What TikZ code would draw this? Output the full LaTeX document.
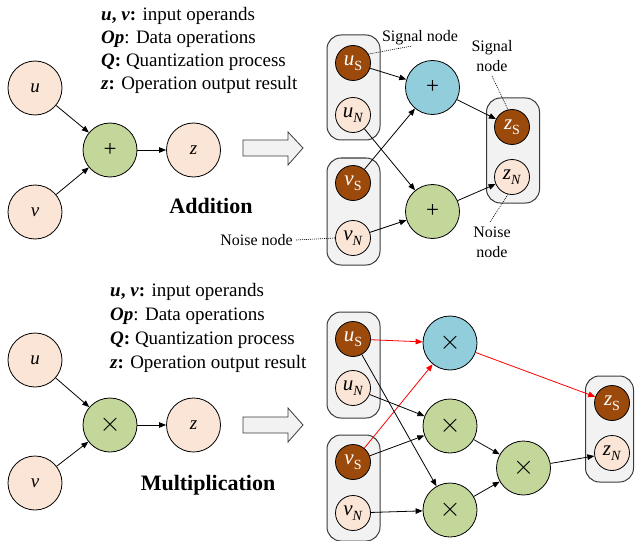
\RequirePackage{fix-cm}
\documentclass[tikz,border=0pt]{standalone}
\usepackage{fontspec}
\setmainfont{Liberation Serif}
\usetikzlibrary{arrows.meta}

\definecolor{peach}{HTML}{FBE5D6}
\definecolor{rust}{HTML}{9C4A0C}
\definecolor{opgreen}{HTML}{C4D79B}
\definecolor{opblue}{HTML}{92CDDC}
\definecolor{panel}{HTML}{F2F2F2}
\definecolor{panelline}{HTML}{3A3A3A}

% variable with a lowered index: \varsub{u}{S}
\newcommand{\varsub}[2]{\textit{#1}\raisebox{-0.25em}{\fontsize{14}{14}\selectfont #2}}

\tikzset{
  bignode/.style={circle, draw=black, line width=0.8pt, fill=peach, minimum size=54pt,
    inner sep=0pt, font=\fontsize{19}{20}\selectfont\itshape},
  opnode/.style={circle, draw=black, line width=0.8pt, minimum size=54pt, inner sep=0pt,
    font=\fontsize{23}{24}\selectfont},
  signode/.style={circle, draw=black, line width=0.8pt, fill=rust, text=white,
    minimum size=35pt, inner sep=0pt, font=\fontsize{21}{22}\selectfont},
  noisenode/.style={circle, draw=black, line width=0.8pt, fill=peach, text=black,
    minimum size=35pt, inner sep=0pt, font=\fontsize{21}{22}\selectfont},
  group/.style={rectangle, draw=panelline, line width=1pt, fill=panel, rounded corners=14pt,
    minimum width=53pt, inner sep=0pt},
  link/.style={-{Triangle[length=7pt,width=5.5pt]}, line width=0.8pt},
  hot/.style={link, color=red},
  callout/.style={line width=0.6pt, dash pattern=on 1pt off 1pt},
  note/.style={font=\fontsize{16}{20}\selectfont, inner sep=0pt, anchor=base},
  legend/.style={font=\fontsize{19}{23}\selectfont, inner sep=0pt, anchor=base west},
  heading/.style={font=\fontsize{22}{24}\selectfont\bfseries, inner sep=0pt, anchor=base},
  blockarrow/.style={draw=panelline, fill=panel, line width=0.8pt},
  mulop/.style={opnode, font=\fontsize{27}{28}\selectfont}
}

\begin{document}
\begin{tikzpicture}[x=1pt, y=-1pt]
\useasboundingbox (0,0) rectangle (636,540);

% ---------------- Addition ----------------
\node[legend] (la1) at (101,21) {\textbf{\textit{u}, \textit{v}:} input operands};
\node[legend] (la2) at (101,44) {\textbf{\textit{Op}}: Data operations};
\node[legend] (la3) at (101,67) {\textbf{\textit{Q}:} Quantization process};
\node[legend] (la4) at (101,90) {\textbf{\textit{z}:} Operation output result};

\node[bignode] (au) at (35,88) {u};
\node[bignode] (av) at (35,212) {v};
\node[opnode, fill=opgreen] (aop) at (110,150) {+};
\node[bignode] (az) at (193.5,150) {z};
\draw[link] (au) -- (aop);
\draw[link] (av) -- (aop);
\draw[link] (aop) -- (az);
\node[heading] (atitle) at (211,213) {Addition};

\draw[blockarrow] (243,140) -- (288,140) -- (288,132) -- (303,148) -- (288,165)
  -- (288,156) -- (243,156) -- cycle;

\node[group, minimum height=105pt] (agu) at (353.5,87.5) {};
\node[group, minimum height=107pt] (agv) at (353.5,211.5) {};
\node[group, minimum height=105pt] (agz) at (513,150.5) {};

\node[signode] (auS) at (353,63) {\varsub{u}{S}};
\node[noisenode] (auN) at (353,115) {\varsub{u}{\textit{N}}};
\node[signode] (avS) at (353,183) {\varsub{v}{S}};
\node[noisenode] (avN) at (353,238) {\varsub{v}{\textit{N}}};
\node[opnode, fill=opblue] (aadd1) at (432.5,87.5) {+};
\node[opnode, fill=opgreen] (aadd2) at (432.5,211.5) {+};
\node[signode] (azS) at (512,127) {\varsub{z}{S}};
\node[noisenode] (azN) at (512,177) {\varsub{z}{\textit{N}}};

\draw[link] (auS) -- (aadd1);
\draw[link] (avS) -- (aadd1);
\draw[link] (auN) -- (aadd2);
\draw[link] (avN) -- (aadd2);
\draw[link] (aadd1) -- (azS);
\draw[link] (aadd2) -- (azN);

% call-outs
\node[note] (sig1) at (420,42) {Signal node};
\coordinate (sig1end) at (412,46);
\draw[callout] (auS.30) -- (sig1end);

\node[note] (sig2a) at (492,52) {Signal};
\node[note] (sig2b) at (492,72) {node};
\coordinate (sig2end) at (492,76);
\draw[callout] (sig2end) -- (azS.103);

\node[note] (noi2a) at (492,237) {Noise};
\node[note] (noi2b) at (492,257) {node};
\coordinate (noi2end) at (490,222);
\draw[callout] (azN.-103) -- (noi2end);

\node[note, anchor=base east] (noi1) at (293,245) {Noise node};
\coordinate (noi1end) at (296,240);
\draw[callout] (noi1end) -- (avN.west);

% ---------------- Multiplication ----------------
\node[legend] (lm1) at (110,296) {\textbf{\textit{u}, \textit{v}:} input operands};
\node[legend] (lm2) at (110,320) {\textbf{\textit{Op}}: Data operations};
\node[legend] (lm3) at (110,344) {\textbf{\textit{Q}:} Quantization process};
\node[legend] (lm4) at (110,368) {\textbf{\textit{z}:} Operation output result};

\node[bignode] (mu) at (35,360) {u};
\node[bignode] (mv) at (35,483) {v};
\node[mulop, fill=opgreen] (mop) at (110,425) {$\times$};
\node[bignode] (mz) at (193.5,425) {z};
\draw[link] (mu) -- (mop);
\draw[link] (mv) -- (mop);
\draw[link] (mop) -- (mz);
\node[heading] (mtitle) at (208,490) {Multiplication};

\draw[blockarrow] (243,417) -- (288,417) -- (288,408) -- (303,425) -- (288,442)
  -- (288,433) -- (243,433) -- cycle;

\node[group, minimum height=106pt] (mgu) at (353.5,365) {};
\node[group, minimum height=106pt] (mgv) at (353.5,488) {};
\node[group, minimum width=48pt, minimum height=106pt] (mgz) at (609.5,429) {};

\node[signode] (muS) at (353,339) {\varsub{u}{S}};
\node[noisenode] (muN) at (353,388) {\varsub{u}{\textit{N}}};
\node[signode] (mvS) at (353,462) {\varsub{v}{S}};
\node[noisenode] (mvN) at (353,513) {\varsub{v}{\textit{N}}};

\node[mulop, fill=opblue] (mm0) at (450,343) {$\times$};
\node[mulop, fill=opgreen] (mm1) at (450,426) {$\times$};
\node[mulop, fill=opgreen] (mm2) at (450,510) {$\times$};
\node[mulop, fill=opgreen] (mm3) at (523.5,468) {$\times$};

\node[signode] (mzS) at (612,403) {\varsub{z}{S}};
\node[noisenode] (mzN) at (612,453) {\varsub{z}{\textit{N}}};

\draw[hot] (muS) -- (mm0);
\draw[hot] (mvS) -- (mm0);
\draw[hot] (mm0) -- (mzS);
\draw[link] (muN) -- (mm1);
\draw[link] (mvS) -- (mm1);
\draw[link] (muS) -- (mm2);
\draw[link] (mvN) -- (mm2);
\draw[link] (mm1) -- (mm3);
\draw[link] (mm2) -- (mm3);
\draw[link] (mm3) -- (mzN);
\end{tikzpicture}
\end{document}
